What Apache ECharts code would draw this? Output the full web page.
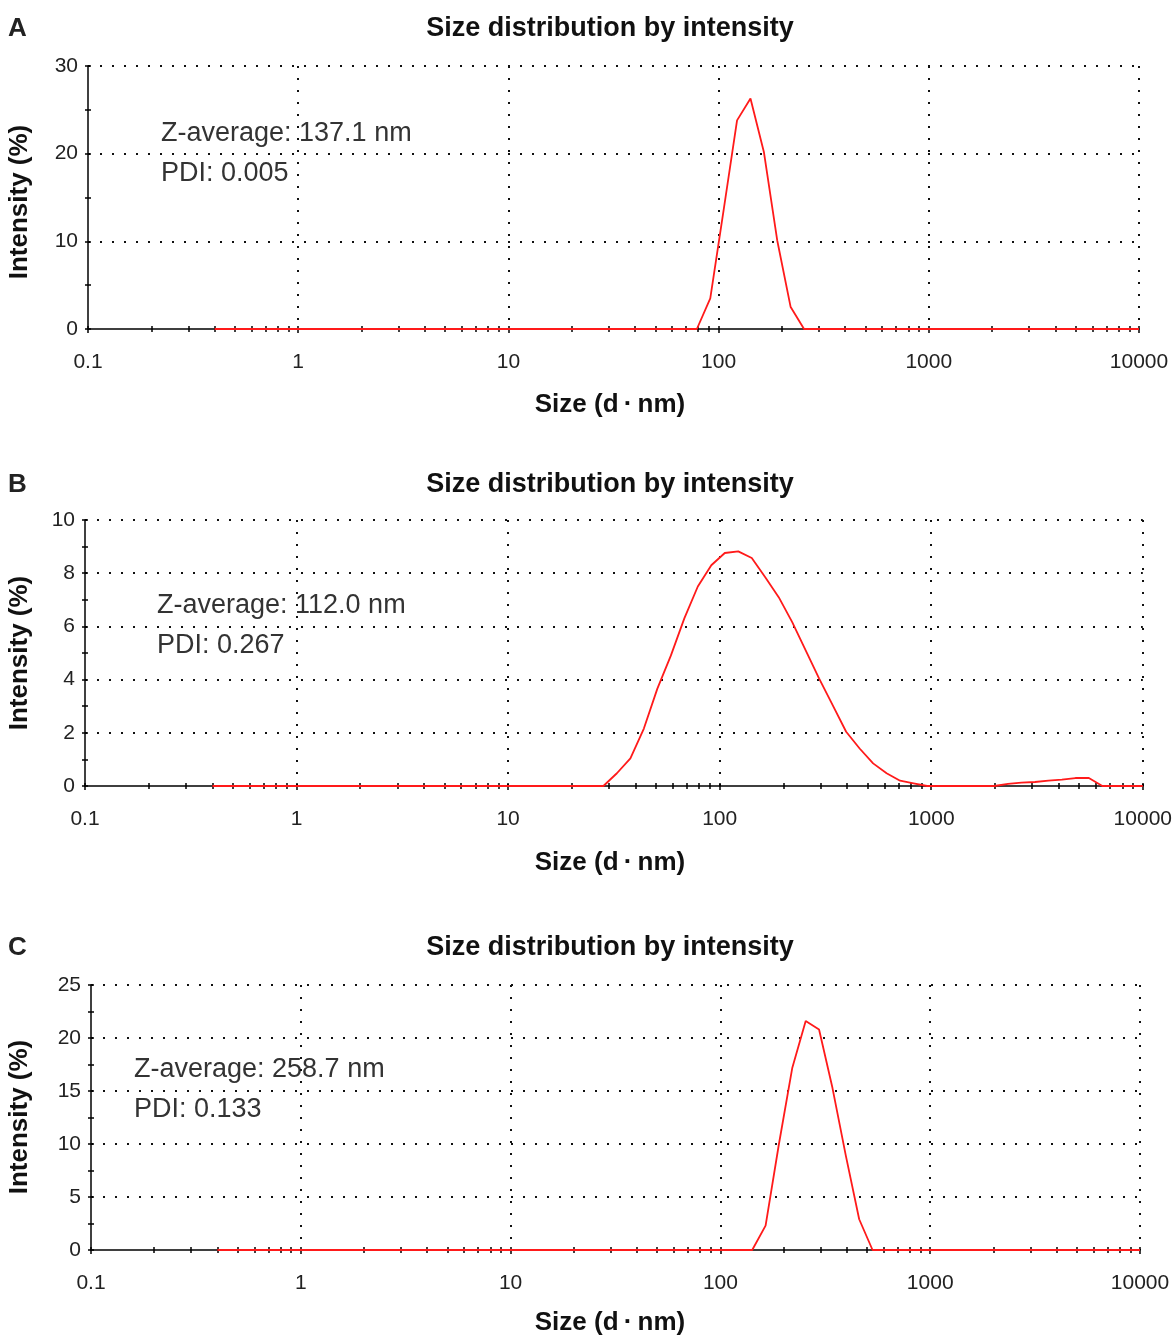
<!DOCTYPE html>
<html>
<head>
<meta charset="utf-8">
<script src="https://cdn.jsdelivr.net/npm/echarts@6/dist/echarts.min.js"></script>
<style>
html,body{margin:0;padding:0;background:#fff;}
#chart{width:1175px;height:1337px;}
</style>
</head>
<body>
<div id="chart"></div>
<script>
// Size bins (d.nm)
const sizes = [0.4,0.4632,0.5365,0.6213,0.7195,0.8332,0.9649,1.117,1.294,1.499,
  1.736,2.01,2.328,2.696,3.122,3.615,4.187,4.849,5.615,6.503,
  7.531,8.721,10.1,11.7,13.54,15.69,18.17,21.04,24.36,28.21,
  32.67,37.84,43.82,50.75,58.77,68.06,78.82,91.28,105.7,122.4,
  141.8,164.2,190.1,220.2,255.0,295.3,342.0,396.1,458.7,531.2,
  615.1,712.4,825.0,955.4,1106,1281,1484,1718,1990,2305,
  2669,3091,3580,4145,4801,5560,6439,7456,8635,10000];

// Intensity (%) per bin
const intensityA = [0,0,0,0,0,0,0,0,0,0, 0,0,0,0,0,0,0,0,0,0,
  0,0,0,0,0,0,0,0,0,0, 0,0,0,0,0,0,0,3.5,13.6,23.8,
  26.3,20.2,10.1,2.5,0,0,0,0,0,0, 0,0,0,0,0,0,0,0,0,0,
  0,0,0,0,0,0,0,0,0,0];
const intensityB = [0,0,0,0,0,0,0,0,0,0, 0,0,0,0,0,0,0,0,0,0,
  0,0,0,0,0,0,0,0,0,0, 0.48,1.04,2.16,3.66,4.9,6.3,7.5,8.3,8.76,8.82,
  8.57,7.85,7.1,6.16,5.1,4.04,3.04,2.04,1.41,0.85, 0.48,0.2,0.1,0,0,0,0,0,0,0.08,
  0.13,0.15,0.2,0.24,0.3,0.3,0,0,0,0];
const intensityC = [0,0,0,0,0,0,0,0,0,0, 0,0,0,0,0,0,0,0,0,0,
  0,0,0,0,0,0,0,0,0,0, 0,0,0,0,0,0,0,0,0,0,
  0,2.3,10.0,17.2,21.6,20.8,15.3,8.9,2.9,0, 0,0,0,0,0,0,0,0,0,0,
  0,0,0,0,0,0,0,0,0,0];

// Tick values
const xMajorTicks = [0.1,1,10,100,1000,10000];
const xMinorTicks = [0.2,0.3,0.4,0.5,0.6,0.7,0.8,0.9,2,3,4,5,6,7,8,9,20,30,40,50,60,70,80,90,
  200,300,400,500,600,700,800,900,2000,3000,4000,5000,6000,7000,8000,9000];
const xAllTicks = xMajorTicks.concat(xMinorTicks);

const panels = [
  {letter:'A', data:intensityA, yMax:30, yMajor:10, yMinor:5, z:'Z-average: 137.1 nm', pdi:'PDI: 0.005',
   grid:{left:88, top:66, width:1051, height:263}, titleY:29, annX:161, annY:134, yNameY:202, xNameY:405},
  {letter:'B', data:intensityB, yMax:10, yMajor:2, yMinor:1, z:'Z-average: 112.0 nm', pdi:'PDI: 0.267',
   grid:{left:85, top:520, width:1058, height:266}, titleY:485, annX:157, annY:606, yNameY:653, xNameY:863},
  {letter:'C', data:intensityC, yMax:25, yMajor:5, yMinor:2.5, z:'Z-average: 258.7 nm', pdi:'PDI: 0.133',
   grid:{left:91, top:985, width:1049, height:265}, titleY:948, annX:134, annY:1070, yNameY:1117, xNameY:1323}
];

const FONT = "'Liberation Sans', Arial, Helvetica, sans-serif";
const dotted = {color:'#111', width:2, type:[2,10]};
const tickStyle = {color:'#000', width:1.5};

const grids=[], xAxes=[], yAxes=[], series=[], graphics=[];
panels.forEach((p,g)=>{
  grids.push(Object.assign({containLabel:false}, p.grid));
  const xBase = {type:'log', logBase:10, gridIndex:g, min:0.1, max:10000, position:'bottom'};
  // main x axis (line, labels, gridlines, decade ticks outside)
  xAxes.push(Object.assign({}, xBase, {interval:1,
    axisLine:{show:true, lineStyle:{color:'#000', width:1.5}},
    axisTick:{show:true, length:4, customValues:xMajorTicks, lineStyle:tickStyle},
    axisLabel:{show:true, fontFamily:FONT, fontSize:21, color:'#222', margin:23,
      customValues: xMajorTicks,
      formatter:v=>String(+v.toPrecision(6))},
    splitLine:{show:true, showMinLine:false, showMaxLine:true, lineStyle:dotted}}));
  // all ticks, inside
  xAxes.push(Object.assign({}, xBase, {
    axisLine:{show:false}, axisLabel:{show:false}, splitLine:{show:false},
    axisTick:{show:true, inside:true, length:3, customValues:xAllTicks, lineStyle:tickStyle}}));
  // minor ticks, outside
  xAxes.push(Object.assign({}, xBase, {
    axisLine:{show:false}, axisLabel:{show:false}, splitLine:{show:false},
    axisTick:{show:true, inside:false, length:3, customValues:xMinorTicks, lineStyle:tickStyle}}));
  // main y axis
  const yBase = {type:'value', gridIndex:g, min:0, max:p.yMax, position:'left'};
  yAxes.push(Object.assign({}, yBase, {interval:p.yMajor,
    axisLine:{show:true, lineStyle:{color:'#000', width:1.5}}, axisTick:{show:false},
    axisLabel:{show:true, fontFamily:FONT, fontSize:21, color:'#222', margin:10},
    splitLine:{show:true, showMinLine:false, showMaxLine:true, lineStyle:dotted}}));
  // y ticks outside
  yAxes.push(Object.assign({}, yBase, {interval:p.yMinor,
    axisLine:{show:false}, axisLabel:{show:false}, splitLine:{show:false},
    axisTick:{show:true, inside:false, length:3, lineStyle:tickStyle}}));
  // y ticks inside
  yAxes.push(Object.assign({}, yBase, {interval:p.yMinor,
    axisLine:{show:false}, axisLabel:{show:false}, splitLine:{show:false},
    axisTick:{show:true, inside:true, length:3, lineStyle:tickStyle}}));

  series.push({type:'line', xAxisIndex:3*g, yAxisIndex:3*g, showSymbol:false, symbol:'none',
    clip:false, animation:false, z:5,
    lineStyle:{color:'#ff1a1a', width:1.8},
    data: sizes.map((s,i)=>[s, p.data[i]])});

  const bold = 'bold 27px ' + FONT;
  graphics.push({type:'text', x:8, y:p.titleY, style:{text:p.letter, font:'bold 26px '+FONT, fill:'#222', align:'left', verticalAlign:'middle'}});
  graphics.push({type:'text', x:610, y:p.titleY, style:{text:'Size distribution by intensity', font:bold, fill:'#111', align:'center', verticalAlign:'middle'}});
  graphics.push({type:'text', x:610, y:p.xNameY, style:{text:'Size (d\u2009·\u2009nm)', font:'bold 26px '+FONT, fill:'#111', align:'center', verticalAlign:'middle'}});
  graphics.push({type:'text', x:20, y:p.yNameY, rotation:Math.PI/2, style:{text:'Intensity (%)', font:'bold 26px '+FONT, fill:'#111', align:'center', verticalAlign:'middle'}});
  graphics.push({type:'text', x:p.annX, y:p.annY, style:{text:p.z, font:'27px '+FONT, fill:'#333', align:'left', verticalAlign:'middle'}});
  graphics.push({type:'text', x:p.annX, y:p.annY+40, style:{text:p.pdi, font:'27px '+FONT, fill:'#333', align:'left', verticalAlign:'middle'}});
});

const chart = echarts.init(document.getElementById('chart'), null, {renderer:'canvas'});
chart.setOption({
  animation:false,
  backgroundColor:'#fff',
  grid:grids, xAxis:xAxes, yAxis:yAxes, series:series, graphic:graphics
});
</script>
</body>
</html>
